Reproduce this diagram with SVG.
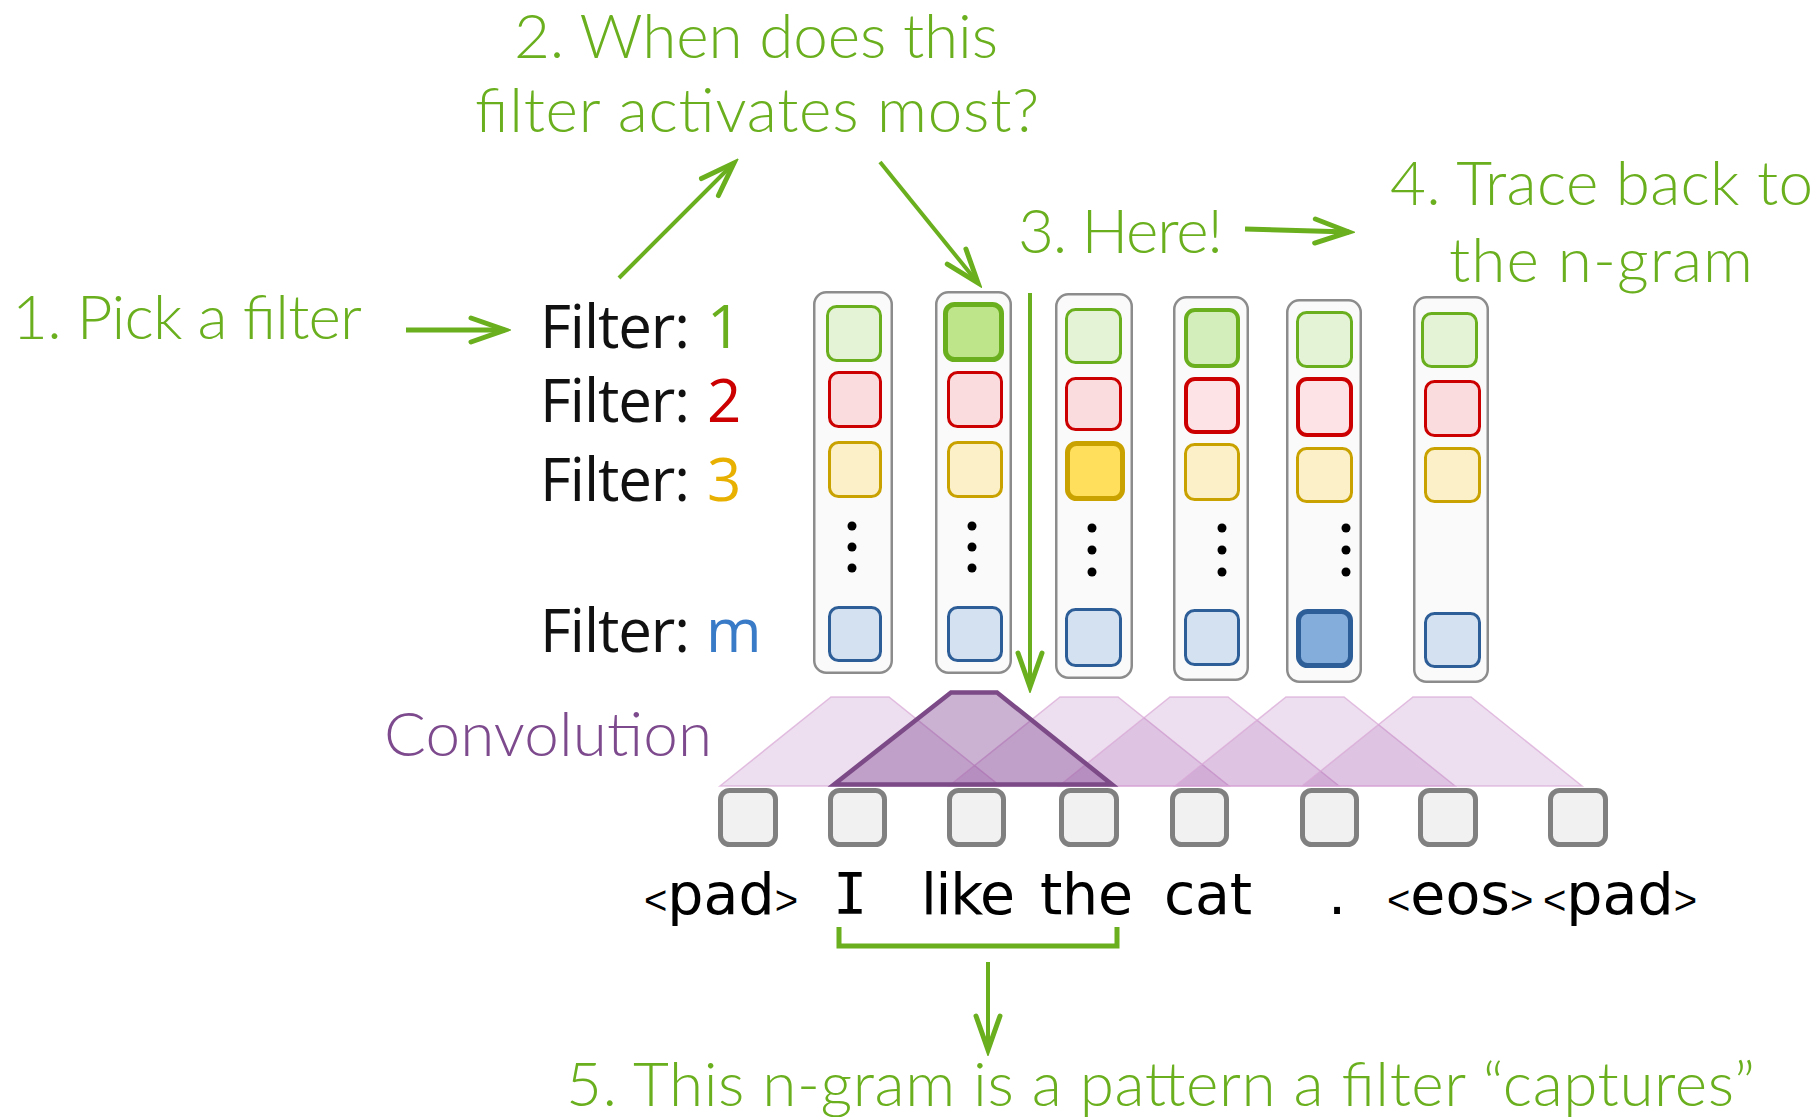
<svg xmlns="http://www.w3.org/2000/svg" width="1820" height="1117" viewBox="0 0 1820 1117">
  <style>
    .note { font-family: Lato, "Open Sans", "Liberation Sans", sans-serif; font-weight: 300; font-size: 62px; fill: #6AAF1E; }
    .flabel { font-family: "Open Sans", "Liberation Sans", sans-serif; font-size: 60px; fill: #111111; }
    .conv { font-family: Lato, "Open Sans", "Liberation Sans", sans-serif; font-weight: 300; font-size: 62px; fill: #7E4A8E; }
    .word { font-family: "DejaVu Sans", "Liberation Sans", sans-serif; font-size: 57px; fill: #000000; }
    .word-i { font-family: "DejaVu Sans Mono", "Liberation Mono", monospace; font-size: 57px; fill: #000000; }
    .ang { font-family: "Liberation Sans", "DejaVu Sans", sans-serif; font-size: 40px; }
    .col { fill: #FAFAFA; stroke: #8C8C8C; stroke-width: 2.5; }
    .g { fill: #E4F2D6; stroke: #6AAF1E; stroke-width: 3; }
    .g-mid { fill: #D3EDBB; stroke: #6AAF1E; stroke-width: 4; }
    .g-hi { fill: #BFE58A; stroke: #6AAF1E; stroke-width: 5; }
    .r { fill: #FADCDE; stroke: #CC0000; stroke-width: 3; }
    .r-mid { fill: #FDE3E5; stroke: #CC0000; stroke-width: 4; }
    .y { fill: #FBF0C8; stroke: #C9A200; stroke-width: 3; }
    .y-hi { fill: #FFDF5C; stroke: #C9A200; stroke-width: 5; }
    .b { fill: #D4E1F0; stroke: #2E5E98; stroke-width: 3; }
    .b-hi { fill: #85ADDC; stroke: #2E5E98; stroke-width: 5; }
    .dot { fill: #000000; }
    .tok { fill: #F1F1F1; stroke: #808080; stroke-width: 5; }
    .win { fill: #9C4FA9; fill-opacity: 0.18; stroke: #D9A6D6; stroke-opacity: 0.7; stroke-width: 1.5; }
    .win-hi { fill: #7E3F8F; fill-opacity: 0.4; stroke: #7B4A87; stroke-width: 4.5; stroke-linejoin: miter; }
    .arrow { fill: none; stroke: #6AAF1E; stroke-width: 4; marker-end: url(#chev); }
    .arrow-thick { fill: none; stroke: #6AAF1E; stroke-width: 5; marker-end: url(#chev); }
    .bracket { fill: none; stroke: #6AAF1E; stroke-width: 5; }
  </style>
  <defs>
    <marker id="chev" markerUnits="userSpaceOnUse" viewBox="-4 -4 44 32" markerWidth="44" markerHeight="32" refX="34" refY="12" orient="auto">
      <path d="M0 0 L34 12 L0 24" fill="none" stroke="#6AAF1E" stroke-width="5" stroke-linecap="round" stroke-linejoin="miter"/>
    </marker>
  </defs>

  <rect width="1820" height="1117" fill="#FFFFFF"/>

  <!-- step captions -->
  <g id="step2">
    <text class="note" x="514" y="58" textLength="484">2. When does this</text>
    <text class="note" x="475" y="132" textLength="564">filter activates most?</text>
  </g>
  <g id="step1">
    <text class="note" x="12" y="339" textLength="350">1. Pick a filter</text>
  </g>
  <g id="step3">
    <text class="note" x="1018" y="253" textLength="205">3. Here!</text>
  </g>
  <g id="step4">
    <text class="note" x="1390" y="205" textLength="423">4. Trace back to</text>
    <text class="note" x="1449" y="282" textLength="304">the n-gram</text>
  </g>
  <g id="step5">
    <text class="note" x="566" y="1106" textLength="1189">5. This n-gram is a pattern a filter “captures”</text>
  </g>

  <!-- filter row labels -->
  <g id="filter-labels">
    <text class="flabel" x="540" y="348" textLength="150">Filter:</text>
    <text class="flabel" x="707" y="348" style="fill:#6AAF1E">1</text>
    <text class="flabel" x="540" y="422" textLength="150">Filter:</text>
    <text class="flabel" x="707" y="422" style="fill:#CC0000">2</text>
    <text class="flabel" x="540" y="501" textLength="150">Filter:</text>
    <text class="flabel" x="707" y="501" style="fill:#E8B000">3</text>
    <text class="flabel" x="540" y="652" textLength="150">Filter:</text>
    <text class="flabel" x="706" y="652" style="fill:#3A7BC8">m</text>
  </g>

  <g id="convolution-label">
    <text class="conv" x="384" y="756" textLength="328">Convolution</text>
  </g>

  <!-- feature map columns: one value per filter -->
  <g id="column1">
    <rect class="col" x="814.25" y="292.25" width="77.5" height="380.5" rx="12"/>
    <rect class="g" x="827.5" y="306.5" width="53" height="54" rx="9"/>
    <rect class="r" x="829.5" y="372.5" width="51" height="54" rx="9"/>
    <rect class="y" x="829.5" y="442.5" width="51" height="54" rx="9"/>
    <circle class="dot" cx="852" cy="526" r="4.5"/>
    <circle class="dot" cx="852" cy="547" r="4.5"/>
    <circle class="dot" cx="852" cy="568" r="4.5"/>
    <rect class="b" x="829.5" y="607.5" width="51" height="53" rx="9"/>
  </g>
  <g id="column2">
    <rect class="col" x="936.25" y="292.25" width="74.5" height="380.5" rx="12"/>
    <rect class="g-hi" x="945.5" y="304.5" width="56" height="55" rx="9"/>
    <rect class="r" x="948.5" y="372.5" width="53" height="54" rx="9"/>
    <rect class="y" x="948.5" y="442.5" width="53" height="54" rx="9"/>
    <circle class="dot" cx="972" cy="526" r="4.5"/>
    <circle class="dot" cx="972" cy="547" r="4.5"/>
    <circle class="dot" cx="972" cy="568" r="4.5"/>
    <rect class="b" x="948.5" y="607.5" width="53" height="53" rx="9"/>
  </g>
  <g id="column3">
    <rect class="col" x="1056.25" y="294.25" width="75.5" height="383.5" rx="12"/>
    <rect class="g" x="1066.5" y="309.5" width="54" height="53" rx="9"/>
    <rect class="r" x="1066.5" y="378.5" width="54" height="51" rx="9"/>
    <rect class="y-hi" x="1067.5" y="443.5" width="55" height="55" rx="9"/>
    <circle class="dot" cx="1092" cy="528" r="4.5"/>
    <circle class="dot" cx="1092" cy="550" r="4.5"/>
    <circle class="dot" cx="1092" cy="572" r="4.5"/>
    <rect class="b" x="1066.5" y="609.5" width="54" height="56" rx="9"/>
  </g>
  <g id="column4">
    <rect class="col" x="1174.25" y="297.25" width="73.5" height="382.5" rx="12"/>
    <rect class="g-mid" x="1186" y="310" width="52" height="56" rx="9"/>
    <rect class="r-mid" x="1186" y="379" width="52" height="53" rx="9"/>
    <rect class="y" x="1185.5" y="444.5" width="53" height="55" rx="9"/>
    <circle class="dot" cx="1222" cy="528" r="4.5"/>
    <circle class="dot" cx="1222" cy="550" r="4.5"/>
    <circle class="dot" cx="1222" cy="572" r="4.5"/>
    <rect class="b" x="1185.5" y="610.5" width="53" height="54" rx="9"/>
  </g>
  <g id="column5">
    <rect class="col" x="1287.25" y="300.25" width="73.5" height="381.5" rx="12"/>
    <rect class="g" x="1297.5" y="312.5" width="54" height="54" rx="9"/>
    <rect class="r-mid" x="1298" y="379" width="53" height="56" rx="9"/>
    <rect class="y" x="1297.5" y="448.5" width="54" height="53" rx="9"/>
    <circle class="dot" cx="1346" cy="528" r="4.5"/>
    <circle class="dot" cx="1346" cy="550" r="4.5"/>
    <circle class="dot" cx="1346" cy="572" r="4.5"/>
    <rect class="b-hi" x="1298.5" y="611.5" width="52" height="54" rx="9"/>
  </g>
  <g id="column6">
    <rect class="col" x="1414.25" y="297.25" width="73.5" height="384.5" rx="12"/>
    <rect class="g" x="1422.5" y="313.5" width="54" height="53" rx="9"/>
    <rect class="r" x="1425.5" y="381.5" width="54" height="54" rx="9"/>
    <rect class="y" x="1425.5" y="448.5" width="54" height="53" rx="9"/>
    <rect class="b" x="1425.5" y="613.5" width="54" height="53" rx="9"/>
  </g>

  <!-- convolution windows over three tokens each -->
  <g id="windows">
    <path class="win" d="M720 786 L831 697 L889 697 L1000 786 Z"/>
    <path class="win" d="M949 786 L1060 697 L1118 697 L1229 786 Z"/>
    <path class="win" d="M1059 786 L1170 697 L1228 697 L1339 786 Z"/>
    <path class="win" d="M1175 786 L1286 697 L1344 697 L1455 786 Z"/>
    <path class="win" d="M1302 786 L1413 697 L1471 697 L1582 786 Z"/>
    <path class="win-hi" d="M834 784.5 L951 692.5 L997 692.5 L1112 784.5 Z"/>
  </g>

  <!-- token embeddings -->
  <g id="tokens">
    <rect class="tok" x="720.5" y="790.5" width="55" height="54" rx="9"/>
    <rect class="tok" x="830.5" y="790.5" width="54" height="54" rx="9"/>
    <rect class="tok" x="949.5" y="790.5" width="54" height="54" rx="9"/>
    <rect class="tok" x="1061.5" y="790.5" width="55" height="54" rx="9"/>
    <rect class="tok" x="1172.5" y="790.5" width="54" height="54" rx="9"/>
    <rect class="tok" x="1302.5" y="790.5" width="54" height="54" rx="9"/>
    <rect class="tok" x="1420.5" y="790.5" width="55" height="54" rx="9"/>
    <rect class="tok" x="1550.5" y="790.5" width="55" height="54" rx="9"/>
  </g>

  <g id="words">
    <text class="word" x="644" y="914"><tspan class="ang">&lt;</tspan>pad<tspan class="ang">&gt;</tspan></text>
    <text class="word-i" x="833" y="914" textLength="34">I</text>
    <text class="word" x="921" y="914" textLength="94">like</text>
    <text class="word" x="1040" y="914" textLength="93">the</text>
    <text class="word" x="1164" y="914" textLength="88">cat</text>
    <text class="word" x="1328" y="914">.</text>
    <text class="word" x="1387" y="914"><tspan class="ang">&lt;</tspan>eos<tspan class="ang">&gt;</tspan></text>
    <text class="word" x="1543" y="914"><tspan class="ang">&lt;</tspan>pad<tspan class="ang">&gt;</tspan></text>
  </g>

  <!-- connectors -->
  <g id="connectors">
    <line class="arrow-thick" x1="406" y1="330" x2="505" y2="330"/>
    <line class="arrow" x1="619" y1="278" x2="734" y2="163"/>
    <line class="arrow" x1="880" y1="162" x2="978" y2="283"/>
    <line class="arrow-thick" x1="1245" y1="229" x2="1349" y2="232"/>
    <line class="arrow" x1="1030" y1="293" x2="1030" y2="687"/>
    <path class="bracket" d="M839 927 V946 H1117 V927"/>
    <line class="arrow" x1="988" y1="962" x2="988" y2="1050"/>
  </g>
</svg>
